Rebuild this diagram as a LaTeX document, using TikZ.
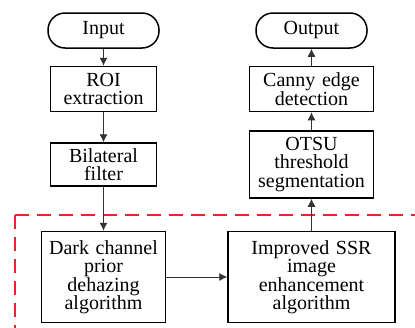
\documentclass[tikz,border=0pt]{standalone}
\usepackage{fontspec}
\setmainfont{Liberation Serif}
\usepackage{tikz}
\usetikzlibrary{positioning, arrows.meta}
\usepackage{xcolor}
\definecolor{mDashRed}{HTML}{E8262A}
\tikzset{
  font=\fontsize{20}{18.5}\selectfont,
  node distance=17pt and 61pt,
  term/.style={draw, line width=1.5pt, rectangle, rounded corners=17pt, minimum width=111pt, minimum height=35pt, inner sep=1pt},
  sbox/.style={draw, line width=1.5pt, rectangle, text width=104pt, align=center, minimum height=45pt, inner sep=1pt},
  bbox/.style={draw, line width=1.5pt, rectangle, text width=122pt, align=center, minimum height=45pt, inner sep=1pt},
  flow/.style={-{Latex[length=8pt,width=8pt]}, line width=0.9pt, draw=black!80},
  region/.style={draw=mDashRed, line width=1.8pt, dash pattern=on 14pt off 8pt}
}

\begin{document}
\begin{tikzpicture}[x=1pt, y=1pt]
        \useasboundingbox (0,0) rectangle (415,-327);
        % dashed frame round the two processing steps
        \draw[region] (15,-215) -- (430,-215);
        \draw[region] (15,-215) -- (15,-340);

        \node[term] (input) at (103.5,-30.5) {Input};
        \node[sbox, below=of input] (roi) {ROI\\ extraction};
        \node[sbox, below=30pt of roi, minimum height=43pt] (bilat) {Bilateral\\ filter};
        \node[bbox, below=44pt of bilat, minimum height=91pt] (dark) {Dark channel\\ prior\\ dehazing\\ algorithm};
        \node[bbox, right=of dark, text width=165pt, minimum height=91pt] (ssr) {Improved SSR\\ image\\ enhancement\\ algorithm};
        \node[bbox, above=32pt of ssr, minimum height=67pt] (otsu) {OTSU\\ threshold\\ segmentation};
        \node[bbox, above=18pt of otsu] (canny) {Canny edge\\ detection};
        \node[term, above=of canny] (output) {Output};

        \draw[flow] (input) -- (roi);
        \draw[flow] (roi) -- (bilat);
        \draw[flow] (bilat) -- (dark);
        \draw[flow] (dark) -- (ssr);
        \draw[flow] (ssr) -- (otsu);
        \draw[flow] (otsu) -- (canny);
        \draw[flow] (canny) -- (output);
      \end{tikzpicture}
\end{document}
